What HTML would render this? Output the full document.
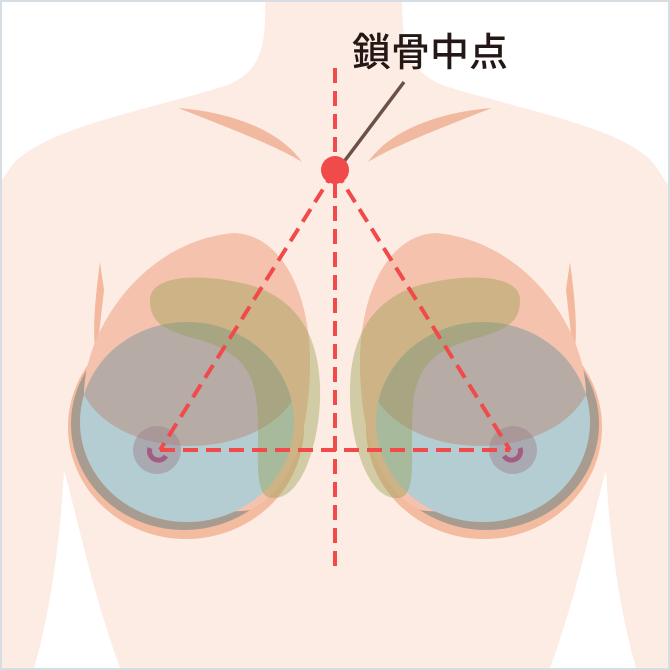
<!DOCTYPE html>
<html><head><meta charset="utf-8"><style>
html,body{margin:0;padding:0;background:#fff}
svg{display:block}
</style></head><body>
<svg width="670" height="670" viewBox="0 0 670 670" xmlns="http://www.w3.org/2000/svg">
<rect x="0" y="0" width="670" height="670" fill="#fff"/>
<path d="M265,0 L402,0 C402,45 408,72 445,86 C530,112 625,128 655,165 L668,185 L668,668 L2,668 L2,180 L12,165 C45,128 140,112 225,86 C262,72 266,45 265,0 Z" fill="#fdece3"/>
<path d="M64,470 C60,550 48,620 34,668 L120,668 C95,600 80,530 64,470 Z" fill="#fff"/>
<path d="M606,470 C610,550 622,620 636,668 L550,668 C575,600 590,530 606,470 Z" fill="#fff"/>
<path d="M178,108 C230,112 280,130 302,162 C280,148 230,128 178,108 Z" fill="#f0b9a0"/>
<path d="M492,108 C440,112 390,130 368,162 C390,148 440,128 492,108 Z" fill="#f0b9a0"/>
<g id="L">
<path d="M100,262 C95,300 92,330 96,360 L104,290 Z" fill="#f3b89d"/>
<ellipse cx="186" cy="427" rx="118" ry="112" fill="#f3bb9f"/>
<ellipse cx="184" cy="424" rx="113" ry="106" fill="#a89c91"/>
<path d="M235,233 C285,236 312,300 310,370 C308,440 290,490 250,510 C190,520 100,470 85,410 C75,340 140,240 235,233 Z" fill="#f5c2ad"/>
<ellipse cx="187" cy="422" rx="107" ry="100" fill="#b4cdd2"/>
<clipPath id="cb"><ellipse cx="187" cy="422" rx="107" ry="100"/></clipPath>
<ellipse cx="190" cy="370" rx="112" ry="76" fill="#b6aba5" clip-path="url(#cb)"/>
<path d="M150,300 C150,275 200,272 250,285 C300,300 322,340 320,400 C318,450 300,497 275,498 C255,500 258,470 258,430 C258,380 250,355 200,340 C160,330 150,320 150,300 Z" fill="rgb(150,160,80)" fill-opacity="0.42"/>
<circle cx="157" cy="450" r="24" fill="#9c7f8a" fill-opacity="0.45"/>
<path d="M150,448 A9,9 0 0 0 166,456" stroke="#a35c82" stroke-width="5" fill="none"/>
</g>
<use href="#L" transform="translate(670,0) scale(-1,1)"/>
<g stroke="#f04a4a" stroke-width="4" stroke-dasharray="15,8" fill="none">
<line x1="335" y1="68" x2="335" y2="572"/>
<line x1="335" y1="170" x2="160" y2="450"/>
<line x1="335" y1="170" x2="510" y2="450"/>
<line x1="160" y1="450" x2="510" y2="450"/>
</g>
<line x1="343" y1="163" x2="404" y2="82" stroke="#6b5147" stroke-width="3.5"/>
<circle cx="335" cy="170" r="14" fill="#f04a4a"/>
<text x="352" y="66" font-family="'Liberation Sans','Noto Sans CJK JP',sans-serif" font-size="39" font-weight="500" fill="#231815">鎖骨中点</text>
<rect x="1" y="1" width="668" height="668" fill="none" stroke="#d6dee4" stroke-width="2"/>
</svg>
</body></html>
